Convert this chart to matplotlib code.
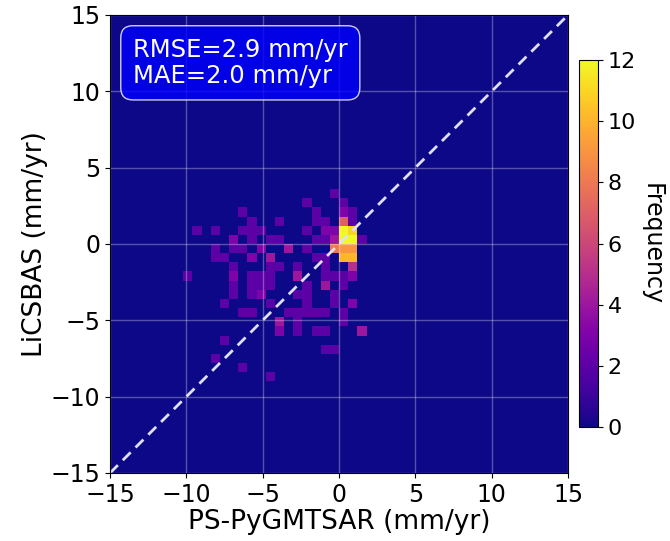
import numpy as np
import matplotlib
matplotlib.use("Agg")
import matplotlib.pyplot as plt

# Bin indices (0.6 mm/yr bins from -15) and counts of the 2-D histogram
col_idx = [24, 21, 25,
           14, 22, 25, 26,
           15, 18, 22, 23, 25, 26,
           9, 11, 14, 15, 16, 21, 23, 24, 25, 26,
           13, 15, 17, 18, 22, 23, 24, 25, 26, 27,
           11, 13, 14, 16, 19, 21, 24, 25, 26,
           11, 12, 15, 17, 22, 23, 25, 26,
           13, 17, 18, 20, 23, 26,
           8, 13, 15, 16, 17, 20, 23, 24, 25, 26,
           13, 15, 16, 17, 21, 23, 25,
           13, 15, 16, 20, 21, 24,
           12, 17, 21, 24, 26,
           14, 15, 19, 20, 21, 22, 23, 25,
           18, 20, 25,
           18, 20, 22, 23, 27,
           12, 23, 24, 11, 14, 17]
row_idx = [30, 29, 29,
           28, 28, 28, 28,
           27, 27, 27, 27, 27, 27,
           26, 26, 26, 26, 26, 26, 26, 26, 26, 26,
           25, 25, 25, 25, 25, 25, 25, 25, 25, 25,
           24, 24, 24, 24, 24, 24, 24, 24, 24,
           23, 23, 23, 23, 23, 23, 23, 23,
           22, 22, 22, 22, 22, 22,
           21, 21, 21, 21, 21, 21, 21, 21, 21, 21,
           20, 20, 20, 20, 20, 20, 20,
           19, 19, 19, 19, 19, 19,
           18, 18, 18, 18, 18,
           17, 17, 17, 17, 17, 17, 17, 17,
           16, 16, 16,
           15, 15, 15, 15, 15,
           14, 13, 13, 12, 11, 10]
counts = [2, 2, 2,
          2, 2, 3, 2,
          2, 2, 2, 2, 7, 2,
          2, 2, 2, 2, 2, 2, 3, 3, 12, 11,
          3, 2, 2, 2, 2, 2, 4, 12, 12, 2,
          2, 2, 2, 3, 4, 2, 8, 9, 9,
          2, 2, 3, 4, 2, 2, 10, 10,
          2, 2, 2, 2, 2, 5,
          2, 3, 2, 2, 2, 4, 2, 2, 2, 3,
          2, 2, 2, 2, 2, 4, 2,
          2, 2, 3, 2, 2, 2,
          2, 2, 2, 2, 3,
          2, 2, 2, 2, 2, 2, 2, 2,
          4, 2, 2,
          3, 2, 2, 2, 4,
          2, 2, 2, 2, 2, 2]

bin_width = 0.6
lim = 15
ps_vel = [-lim + bin_width * (i + 0.5) for i in col_idx]
lics_vel = [-lim + bin_width * (j + 0.5) for j in row_idx]

rmse_label = "RMSE=2.9 mm/yr"
mae_label = "MAE=2.0 mm/yr"
ticks = [-15, -10, -5, 0, 5, 10, 15]
cbar_ticks = [0, 2, 4, 6, 8, 10, 12]

fig = plt.figure(figsize=(6.70, 5.41), dpi=100)
ax = fig.add_axes([0.1642, 0.1257, 0.6836, 0.8466])
cax = fig.add_axes([0.8642, 0.2107, 0.0284, 0.6784])

edges = np.linspace(-lim, lim, 51)
h = ax.hist2d(ps_vel, lics_vel, bins=[edges, edges], weights=counts,
              cmap="plasma", vmin=0, vmax=12)

ax.plot([-lim, lim], [-lim, lim], ls="--", color="#e0e0f5", lw=2, dashes=(4, 2.5))
ax.set_xlim(-lim, lim)
ax.set_ylim(-lim, lim)
ax.set_xticks(ticks)
ax.set_yticks(ticks)
ax.grid(True, color="white", alpha=0.3, lw=1)
ax.tick_params(labelsize=17)
ax.set_xlabel("PS-PyGMTSAR (mm/yr)", fontsize=19, labelpad=2)
ax.set_ylabel("LiCSBAS (mm/yr)", fontsize=19, labelpad=2)

ax.text(0.05, 0.95, rmse_label + "\n" + mae_label, transform=ax.transAxes,
        va="top", ha="left", fontsize=17.5, color="white", linespacing=1.1,
        bbox=dict(boxstyle="round,pad=0.5", facecolor="blue", alpha=0.8,
                  edgecolor="white"))

cb = fig.colorbar(h[3], cax=cax)
cb.set_ticks(cbar_ticks)
cb.ax.tick_params(labelsize=16)
cb.set_label("Frequency", fontsize=17, rotation=270, labelpad=20)

fig.savefig("out.png", dpi=100)
